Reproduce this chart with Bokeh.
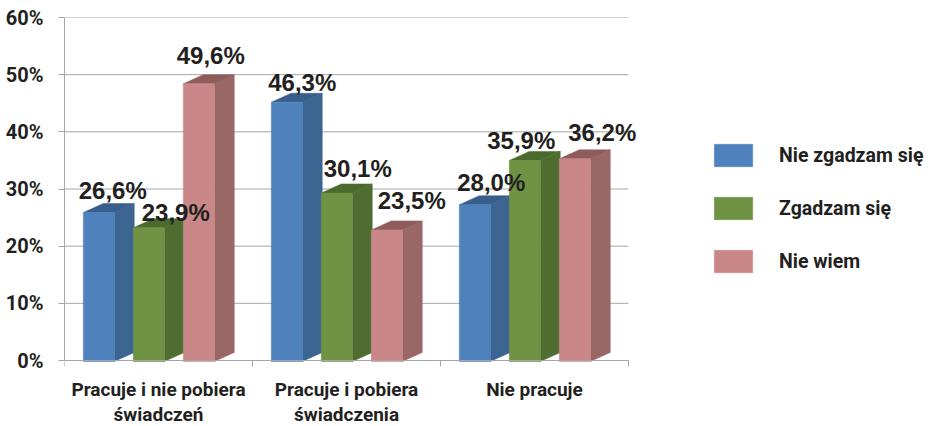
from bokeh.plotting import figure
from bokeh.models import (Range1d, FixedTicker, ColumnDataSource, LabelSet,
                          Legend, LegendItem)
from bokeh.core.properties import value
from bokeh.embed import file_html
from bokeh.resources import INLINE

# ---------------- data ----------------
categories = ["Pracuje i nie pobiera\nświadczeń", "Pracuje i pobiera\nświadczenia", "Nie pracuje"]
series_names = ["Nie zgadzam się", "Zgadzam się", "Nie wiem"]
nie_zgadzam = [26.6, 46.3, 28.0]
zgadzam = [23.9, 30.1, 35.9]
nie_wiem = [49.6, 23.5, 36.2]
y_ticks = [0, 10, 20, 30, 40, 50, 60]
y_tick_labels = ["0%", "10%", "20%", "30%", "40%", "50%", "60%"]

# ---------------- style / layout ----------------
front_col = ["#4F81BD", "#6F9245", "#C98887"]
side_col = ["#3C6591", "#4F6D31", "#9A6767"]
top_col = ["#3A5E8B", "#4B6A2D", "#8F5C5C"]
TXT = "#231F20"
GRID = "#A6A6A6"
FONT = "Roboto"

# label nudges in pixels (manual label placement as in the original)
label_dx = [[4, 5.5, 6.5], [17, 11, -13.5], [2, 15, 17.5]]
label_dy = [[13, 10.7, 13.2], [6, 15.4, 11], [19, 20.4, 17.3]]

series_vals = [nie_zgadzam, zgadzam, nie_wiem]

W, H = 931, 426
BL, BT = 64, 17            # frame left / top
AXIS_W = 564               # pixel length of the category axis
ZERO_PX = 360              # pixel row of the 0 % line
frame_w = W - BL
frame_h = H - BT
px_x = AXIS_W / len(categories)
px_y = (ZERO_PX - BT) / y_ticks[-1]

p = figure(width=W, height=H,
           x_range=Range1d(0, frame_w / px_x),
           y_range=Range1d(-(H - ZERO_PX) / px_y, y_ticks[-1]),
           output_backend="svg", toolbar_location=None,
           min_border_left=BL, min_border_right=0, min_border_top=BT, min_border_bottom=0)
p.outline_line_color = None
p.background_fill_color = "white"
p.border_fill_color = "white"
p.xgrid.visible = False
p.ygrid.visible = False

# front plane scale of the 3D bars (perspective: slightly compressed)
PXPER = 5.6
BAR_ZERO = ZERO_PX + 1
p.extra_y_ranges = {"bars": Range1d(-(H - BAR_ZERO) / PXPER, (BAR_ZERO - BT) / PXPER)}

# gridlines over the category span only
p.segment(x0=0, x1=len(categories), y0=y_ticks, y1=y_ticks, line_color=GRID, line_width=1)

# y axis
p.yaxis.ticker = FixedTicker(ticks=y_ticks)
p.yaxis.bounds = (y_ticks[0], y_ticks[-1])
p.yaxis.major_label_overrides = {t: l for t, l in zip(y_ticks, y_tick_labels)}
p.yaxis.major_label_text_font = FONT
p.yaxis.major_label_text_font_style = "bold"
p.yaxis.major_label_text_font_size = "20px"
p.yaxis.major_label_text_color = TXT
p.yaxis.axis_line_color = GRID
p.yaxis.major_tick_line_color = GRID
p.yaxis.major_tick_out = 6
p.yaxis.major_tick_in = 0
p.yaxis.minor_tick_line_color = None
p.yaxis.major_label_standoff = 15

# x axis at the 0 line: category names at group centres, tick marks at group borders
cat_centres = [i + 0.5 for i in range(len(categories))]
p.xaxis.fixed_location = 0
p.xaxis.bounds = (0, len(categories))
p.xaxis.ticker = FixedTicker(ticks=cat_centres, minor_ticks=list(range(len(categories) + 1)))
p.xaxis.major_label_overrides = {c: t for c, t in zip(cat_centres, categories)}
p.xaxis.major_label_text_font = FONT
p.xaxis.major_label_text_font_style = "bold"
p.xaxis.major_label_text_font_size = "19px"
p.xaxis.major_label_text_line_height = 1.12
p.xaxis.major_label_text_color = TXT
p.xaxis.major_label_standoff = 11
p.xaxis.axis_line_color = GRID
p.xaxis.major_tick_line_color = None
p.xaxis.major_tick_out = 0
p.xaxis.major_tick_in = 0
p.xaxis.minor_tick_line_color = GRID
p.xaxis.minor_tick_out = 6
p.xaxis.minor_tick_in = 0

# 3D bar geometry (data units)
OFF = 0.1
PITCH = 0.266
BW = 0.165
DX = 0.106
DY = 9 / PXPER

lx, ly, ltxt, ldx, ldy = [], [], [], [], []
back_srcs, front_srcs = [], []
for j, vals in enumerate(series_vals):
    bxs, bys, bcs, fxs, fys = [], [], [], [], []
    for i in range(len(categories)):
        v = vals[i]
        xl = i + OFF + j * PITCH
        xr = xl + BW
        bxs.append([xr, xr + DX, xr + DX, xr]); bys.append([0, DY, v + DY, v]); bcs.append(side_col[j])
        bxs.append([xl, xr, xr + DX, xl + DX]); bys.append([v, v, v + DY, v + DY]); bcs.append(top_col[j])
        fxs.append([xl, xr, xr, xl]); fys.append([0, 0, v, v])
        lx.append(xl + (BW + DX) / 2)
        ly.append(v + DY)
        ltxt.append(("%.1f%%" % v).replace(".", ","))
        ldx.append(label_dx[j][i])
        ldy.append(label_dy[j][i])
    back_srcs.append(ColumnDataSource(dict(xs=bxs, ys=bys, c=bcs)))
    front_srcs.append(ColumnDataSource(dict(xs=fxs, ys=fys)))

for j in range(len(series_vals)):
    p.patches("xs", "ys", source=back_srcs[j], fill_color="c", line_color="c",
              line_width=0.5, y_range_name="bars")
front_renderers = []
for j in range(len(series_vals)):
    r = p.patches("xs", "ys", source=front_srcs[j], fill_color=front_col[j],
                  line_color=front_col[j], line_width=0.5, y_range_name="bars")
    front_renderers.append(r)

lsrc = ColumnDataSource(dict(x=lx, y=ly, t=ltxt, dx=ldx, dy=ldy))
p.add_layout(LabelSet(x="x", y="y", text="t", x_offset="dx", y_offset="dy", source=lsrc,
                      y_range_name="bars", text_align="center", text_baseline="middle",
                      text_font=value("Liberation Sans"), text_font_style="bold",
                      text_font_size="24px", text_color=TXT))

# legend (location = bottom-left corner, pixels from the frame's bottom-left)
items = [LegendItem(label=name, renderers=[r]) for name, r in zip(series_names, front_renderers)]
legend = Legend(items=items, location=(645, 151), glyph_width=48, glyph_height=28,
                label_height=28, spacing=25, label_standoff=22, padding=0,
                margin=0, border_line_color=None, background_fill_alpha=0,
                label_text_font=FONT, label_text_font_style="bold",
                label_text_font_size="19.5px", label_text_color=TXT,
                label_text_baseline="middle")
p.add_layout(legend)

open("out.html", "w").write(file_html(p, INLINE))
